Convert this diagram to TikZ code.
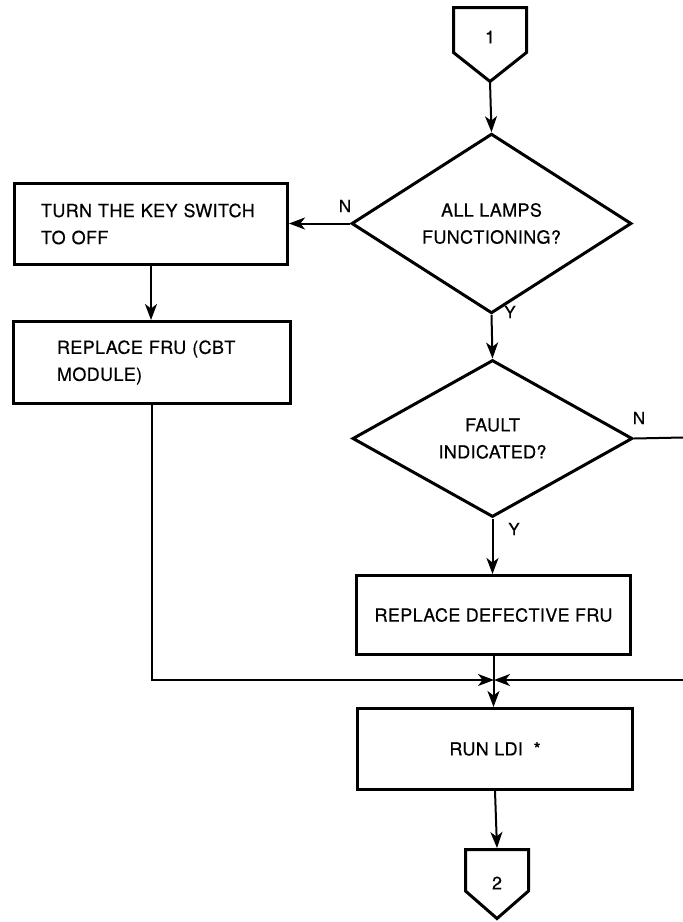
\documentclass[tikz,border=0pt]{standalone}
\usepackage{fontspec}
\setmainfont{TeX Gyre Heros}[LetterSpace=2, FakeBold=0.5]
\usetikzlibrary{shapes.geometric,arrows.meta,calc}

\tikzset{
  every node/.style={font=\fontsize{18}{27}\selectfont},
  procbox/.style={draw, rectangle, line width=3pt, inner sep=0pt},
  decision/.style={draw, diamond, line width=3pt, inner sep=0pt, align=center,
    minimum width=280pt, minimum height=157pt, miter limit=20},
  offpage/.style={draw, line width=3pt, line join=miter},
  flow/.style={line width=2pt, -{Stealth[length=16pt, width=12pt, inset=4.5pt]}},
  plainflow/.style={line width=2pt},
  branch/.style={font=\fontsize{17}{18}\selectfont, inner sep=0pt}
}

\begin{document}
\begin{tikzpicture}[x=1pt, y=-1pt]
  \useasboundingbox (0,0) rectangle (683,922);

  % off-page connector 1
  \coordinate (c1tip) at (490,81.5);
  \draw[offpage] (453.5,7.5) -- (526.5,7.5) -- (526.5,52.5) -- (c1tip) -- (453.5,52.5) -- cycle;
  \node (c1) at (490,37) {1};

  % decisions
  \node[decision] (d1) at (491.5,223.5) {ALL LAMPS\\FUNCTIONING?};
  \node[decision] (d2) at (492.5,438.5) {FAULT\\INDICATED?};

  % process boxes
  \node[procbox, minimum width=273pt, minimum height=81pt, text width=220pt,
        inner xsep=26.5pt, align=left] (b1) at (151,224) {\mbox{TURN THE KEY SWITCH}\\TO OFF};
  \node[procbox, minimum width=277pt, minimum height=82pt, text width=190pt,
        inner xsep=43.5pt, align=left] (b2) at (152,362.5) {\mbox{REPLACE FRU (CBT}\\MODULE)};
  \node[procbox, minimum width=274pt, minimum height=79pt] (b3) at (493.5,615) {REPLACE DEFECTIVE FRU};
  \node[procbox, minimum width=275pt, minimum height=81pt] (b4) at (495,749) {RUN LDI\ \ *};

  % off-page connector 2
  \coordinate (c2top) at (497,848);
  \coordinate (c2tip) at (497,918.5);
  \draw[offpage] (465.5,849.5) -- (528.5,849.5) -- (528.5,891) -- (c2tip) -- (465.5,891) -- cycle;
  \node (c2) at (497,883) {2};

  % branch labels
  \node[branch] (n1) at (345,206) {N};
  \node[branch] (y1) at (510,312) {Y};
  \node[branch] (n2) at (639,418) {N};
  \node[branch] (y2) at (514,529) {Y};

  % junction and page-edge points
  \coordinate (j) at (494,680);
  \coordinate (eout) at (683,437.5);
  \coordinate (ein) at (683,680);

  % flow lines
  \draw[flow] (c1tip) -- (d1.north);
  \draw[flow] (d1.west) -- (d1.west -| b1.east);
  \draw[flow] (d1.south) -- (d2.north);
  \draw[flow] (b1.south) -- (b1.south |- b2.north);
  \draw[flow] (d2.south) -- (d2.south |- b3.north);
  \draw[plainflow] (d2.east) -- (eout);
  \draw[flow] (b2.south) -- (b2.south |- j) -- (j);
  \draw[flow] (ein) -- (j);
  \draw[flow] (b3.south) -- (b3.south |- b4.north);
  \draw[flow] (b4.south) -- (c2top);
\end{tikzpicture}
\end{document}
